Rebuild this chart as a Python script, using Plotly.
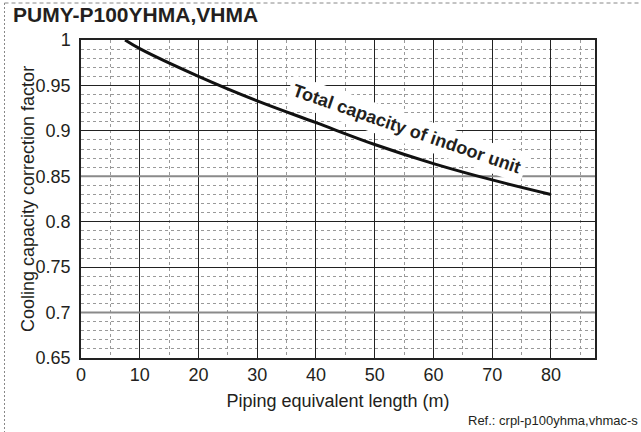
import plotly.graph_objects as go

# Data
length_m = [7.5, 10, 20, 30, 40, 50, 60, 70, 80]
correction_factor = [1.0, 0.9905, 0.960, 0.933, 0.909, 0.885, 0.864, 0.846, 0.830]

x_ticks = [0, 10, 20, 30, 40, 50, 60, 70, 80]
x_range = [0, 87.5]
y_tickvals = [0.65, 0.7, 0.75, 0.8, 0.85, 0.9, 0.95, 1.0]
y_ticktext = ["0.65", "0.7", "0.75", "0.8", "0.85", "0.9", "0.95", "1"]
gray_grid_levels = [0.7, 0.85]

title_text = "PUMY-P100YHMA,VHMA"
x_title = "Piping equivalent length (m)"
y_title = "Cooling capacity correction factor"
curve_label = "Total capacity of indoor unit"
ref_text = "Ref.: crpl-p100yhma,vhmac-s"

FONT = "Liberation Sans, Arial, Helvetica, sans-serif"
TXT = "#231f20"

fig = go.Figure()
fig.add_trace(go.Scatter(
    x=length_m, y=correction_factor, mode="lines",
    line=dict(color="#111", width=3, shape="spline", smoothing=1.0),
    showlegend=False, hoverinfo="skip",
))

W, H = 641, 432
L, R, T, B = 81, 46, 40, 74
pw, ph = W - L - R, H - T - B

def px_to_paper(px, py):
    return (px - L) / pw, (H - B - py) / ph

fig.update_layout(
    width=W, height=H,
    margin=dict(l=L, r=R, t=T, b=B, autoexpand=False),
    paper_bgcolor="white", plot_bgcolor="white",
    font=dict(family=FONT, size=18, color=TXT),
    title=dict(text="<b>" + title_text + "</b>", x=13 / W, xref="container", xanchor="left",
               y=1 - 15 / H, yref="container", yanchor="middle",
               font=dict(family=FONT, size=21, color=TXT)),
    xaxis=dict(
        range=x_range, tickvals=x_ticks, ticks="", showline=True, mirror=True,
        linecolor="#222", linewidth=1.5, showgrid=True, gridcolor="#222", gridwidth=1,
        zeroline=False, tickfont=dict(size=18, color=TXT), ticklabelstandoff=0,
        automargin=False,
        minor=dict(dtick=5, showgrid=True, gridcolor="#999", griddash="dot", gridwidth=1),
        title=dict(text=x_title, font=dict(size=18, color=TXT), standoff=10),
    ),
    yaxis=dict(
        range=[0.65, 1.0], tickvals=y_tickvals, ticktext=y_ticktext, ticks="",
        showline=True, mirror=True, linecolor="#222", linewidth=1.5,
        showgrid=True, gridcolor="#222", gridwidth=1, zeroline=False,
        tickfont=dict(size=18, color=TXT), ticklabelstandoff=5,
        automargin=False,
    ),
)
fig.update_yaxes(minor=dict(dtick=0.01, showgrid=True, gridcolor="#999", griddash="dot", gridwidth=1))

# Some major gridlines are printed in gray in the original
for lvl in gray_grid_levels:
    fig.add_shape(type="line", xref="x", yref="y", x0=x_range[0], x1=x_range[1], y0=lvl, y1=lvl,
                  line=dict(color="#8a8a8a", width=2), layer="between")

# Y-axis title placed as rotated text
tx, ty = px_to_paper(28, 199)
fig.add_annotation(
    x=tx, y=ty, xref="paper", yref="paper", text=y_title, showarrow=False,
    textangle=-90, xanchor="center", yanchor="middle",
    font=dict(family=FONT, size=18, color=TXT),
)

# Curve label with white background
fig.add_annotation(
    x=55.5, y=0.902, xref="x", yref="y", text="<b>" + curve_label + "</b>",
    showarrow=False, textangle=19, bgcolor="white", borderpad=4,
    font=dict(family=FONT, size=18, color=TXT),
)

# Reference text
rx, ry = px_to_paper(640, 420)
fig.add_annotation(
    x=rx, y=ry, xref="paper", yref="paper", text=ref_text, showarrow=False,
    xanchor="right", yanchor="middle", font=dict(family=FONT, size=13, color=TXT),
)

# Dashed frame (top and left)
x0, y0 = px_to_paper(4.5, 3)
x1, _ = px_to_paper(641, 3)
_, yb = px_to_paper(4.5, 432)
fig.add_shape(type="line", xref="paper", yref="paper", x0=x0, y0=y0, x1=x1, y1=y0,
              line=dict(color="#888", width=1, dash="4px,3px"))
fig.add_shape(type="line", xref="paper", yref="paper", x0=x0, y0=y0, x1=x0, y1=yb,
              line=dict(color="#888", width=1, dash="2px,2px"))

fig.write_html("out.html", config={"displayModeBar": False},
               post_script="document.body.style.margin='0';document.body.style.overflow='hidden';")
